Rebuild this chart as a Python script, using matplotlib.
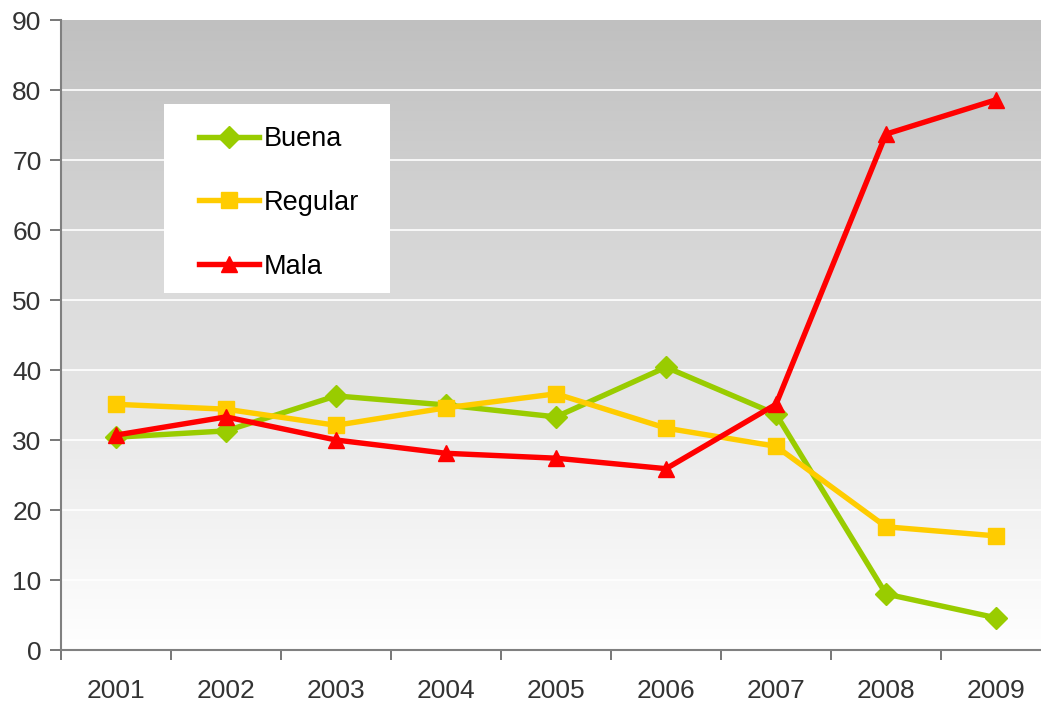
import matplotlib.pyplot as plt
import numpy as np
from matplotlib.patches import Rectangle

plt.rcParams['font.family'] = ['Liberation Sans', 'DejaVu Sans']

years = ['2001', '2002', '2003', '2004', '2005', '2006', '2007', '2008', '2009']
buena = [30.4, 31.3, 36.3, 35.0, 33.3, 40.4, 33.7, 8.0, 4.6]
regular = [35.1, 34.4, 32.1, 34.6, 36.6, 31.7, 29.1, 17.6, 16.3]
mala = [30.7, 33.3, 30.0, 28.1, 27.4, 25.9, 35.1, 73.7, 78.6]

W, H = 1041, 704
fig = plt.figure(figsize=(W / 100, H / 100), dpi=100)
ax = fig.add_axes([61 / W, (H - 650) / H, 990 / W, 630 / H])

# grey (top) to white (bottom) gradient background
grad = np.linspace(0.753, 1.0, 256).reshape(-1, 1)
ax.imshow(np.dstack([grad] * 3), extent=(0, 9, 0, 90), origin='upper',
          aspect='auto', zorder=0, interpolation='bilinear')
ax.set_xlim(0, 9)
ax.set_ylim(0, 90)

for v in range(10, 90, 10):
    ax.axhline(v, color='white', lw=1.2, zorder=1)

x = np.arange(len(years)) + 0.5
ax.plot(x, buena, color='#99CC00', lw=3.9, marker='D', ms=11.5,
        label='Buena', zorder=3)
ax.plot(x, regular, color='#FFCC00', lw=3.9, marker='s', ms=11.5,
        label='Regular', zorder=3)
ax.plot(x, mala, color='#FF0000', lw=3.9, marker='^', ms=12,
        label='Mala', zorder=4)

for s in ['top', 'right']:
    ax.spines[s].set_visible(False)
for s in ['left', 'bottom']:
    ax.spines[s].set_color('#808080')
    ax.spines[s].set_linewidth(1.5)

ax.set_yticks(range(0, 91, 10))
ax.set_xticks(range(0, 10))
ax.set_xticklabels([])
ax.set_xticks(x, minor=True)
ax.set_xticklabels(years, minor=True)
ax.tick_params(axis='x', which='major', length=7, width=1.2, color='#606060')
ax.tick_params(axis='x', which='minor', length=0, pad=21,
               labelsize=19, labelcolor='#333333')
ax.tick_params(axis='y', length=8, width=1.2, color='#606060',
               labelsize=19, labelcolor='#333333', pad=6)

# legend box
fig.patches.append(Rectangle((164 / W, (H - 293) / H), 226 / W, 189 / H,
                             transform=fig.transFigure, facecolor='white',
                             edgecolor='none', zorder=5))
leg = fig.legend(loc='upper left', bbox_to_anchor=(199 / W, (H - 126) / H),
                 frameon=False, fontsize=19.5, handlelength=2.22,
                 handletextpad=0.18, labelspacing=1.4, borderpad=0,
                 borderaxespad=0)
leg.set_zorder(6)

fig.savefig('out.png', dpi=100)
